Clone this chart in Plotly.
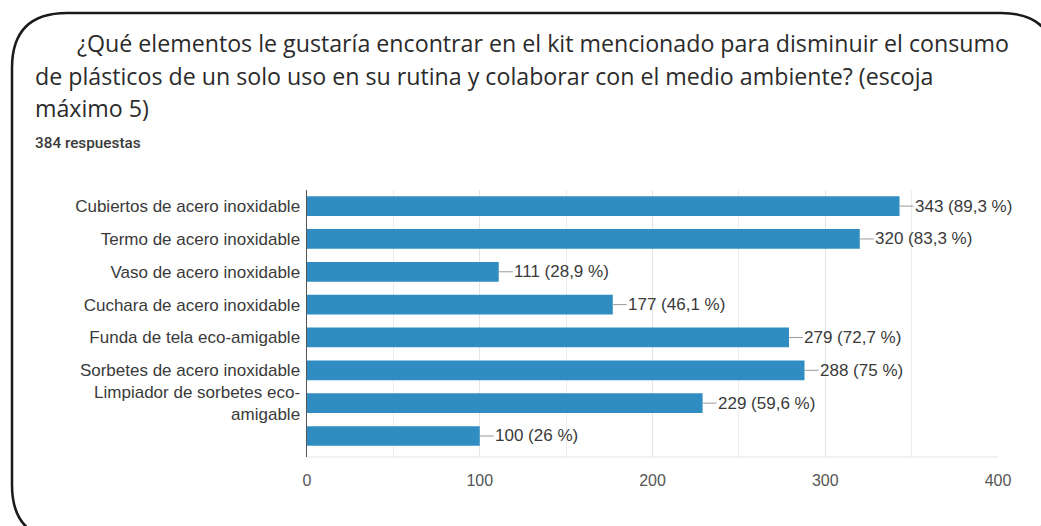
import plotly.graph_objects as go

categories = [
    "Cubiertos de acero inoxidable",
    "Termo de acero inoxidable",
    "Vaso de acero inoxidable",
    "Cuchara de acero inoxidable",
    "Funda de tela eco-amigable",
    "Sorbetes de acero inoxidable",
    "Limpiador de sorbetes eco-<br>amigable",
    "",
]
counts = [343, 320, 111, 177, 279, 288, 229, 100]
percents = ["89,3", "83,3", "28,9", "46,1", "72,7", "75", "59,6", "26"]
x_ticks = [0, 100, 200, 300, 400]

title_lines = [
    "¿Qué elementos le gustaría encontrar en el kit mencionado para disminuir el consumo",
    "de plásticos de un solo uso en su rutina y colaborar con el medio ambiente? (escoja",
    "máximo 5)",
]
subtitle = "384 respuestas"

W, H = 1041, 526
# plot area in page pixels
PL, PR, PT, PB = 307, 998, 190, 457
L, T, R, B = PL, PT, W - PR, H - PB
PW, PH = PR - PL, PB - PT


def px(x):
    return (x - PL) / PW


def py(y):
    return (PB - y) / PH


ypos = list(range(len(categories)))
BAR = "#318dc1"
TXT = "#3a3a3a"
FONT = "Liberation Sans, Arial"

fig = go.Figure()
fig.add_trace(go.Bar(
    x=counts, y=ypos, orientation="h",
    marker=dict(color=BAR, line=dict(width=0)),
    width=0.6, hoverinfo="skip",
))

annotations = []
for c, p, yv in zip(counts, percents, ypos):
    annotations.append(dict(
        x=c, y=yv, xref="x", yref="y",
        text=f"{c} ({p} %)", showarrow=True, arrowhead=0, arrowwidth=1,
        arrowcolor="#9a9a9a", ax=14, ay=0, xanchor="left", yanchor="middle",
        font=dict(family=FONT, size=17, color=TXT),
        borderpad=0,
    ))

# title lines
title_x = [75, 33, 33]
title_y = [43, 76, 108]
for t, tx, ty in zip(title_lines, title_x, title_y):
    annotations.append(dict(
        x=px(tx), y=py(ty), xref="paper", yref="paper", text=t, showarrow=False,
        xanchor="left", yanchor="middle",
        font=dict(family="Open Sans", size=23.2, color="#2b2b2b"),
    ))
annotations.append(dict(
    x=px(33), y=py(143), xref="paper", yref="paper", text=subtitle, showarrow=False,
    xanchor="left", yanchor="middle",
    font=dict(family="Roboto", size=15.3, color="#3a3a3a", weight=500),
))

# rounded frame (right side runs off the page, as in the reference)
x0, x1, y0, y1 = 12, 1056, 13, 540
r = 55
path = (
    f"M {px(x0)},{py(y0 + r)} "
    f"Q {px(x0)},{py(y0)} {px(x0 + r)},{py(y0)} "
    f"L {px(x1 - r)},{py(y0)} "
    f"Q {px(x1)},{py(y0)} {px(x1)},{py(y0 + r)} "
    f"L {px(x1)},{py(y1 - r)} "
    f"Q {px(x1)},{py(y1)} {px(x1 - r)},{py(y1)} "
    f"L {px(x0 + r)},{py(y1)} "
    f"Q {px(x0)},{py(y1)} {px(x0)},{py(y1 - r)} Z"
)
shapes = [dict(type="path", xref="paper", yref="paper", path=path,
               line=dict(color="#1a1a1a", width=2.5), layer="above"),
          dict(type="line", xref="paper", yref="paper", x0=0, x1=1, y0=0, y1=0,
               line=dict(color="#e4e4e4", width=1), layer="below")]

fig.update_layout(
    width=W, height=H,
    margin=dict(l=L, r=R, t=T, b=B),
    paper_bgcolor="white", plot_bgcolor="white",
    showlegend=False,
    hovermode=False,
    annotations=annotations,
    shapes=shapes,
    xaxis=dict(
        range=[0, 400], tickvals=x_ticks, ticktext=[str(v) for v in x_ticks],
        showgrid=True, gridcolor="#e4e4e4", gridwidth=1,
        minor=dict(dtick=50, showgrid=True, gridcolor="#ececec", gridwidth=1),
        zeroline=False, showline=False, ticks="",
        tickfont=dict(family=FONT, size=16, color="#555555"),
        ticklabelstandoff=12, fixedrange=True,
    ),
    yaxis=dict(
        range=[7.64, -0.49], tickvals=ypos, ticktext=categories,
        showgrid=False, zeroline=False,
        showline=True, linecolor="#555555", linewidth=1.5,
        ticks="", ticklabelstandoff=2,
        tickfont=dict(family=FONT, size=17, color=TXT),
        fixedrange=True,
    ),
)

fig.write_html(
    "out.html",
    config={"displayModeBar": False, "staticPlot": True},
    post_script="document.body.style.margin='0';document.body.style.overflow='hidden';",
)
